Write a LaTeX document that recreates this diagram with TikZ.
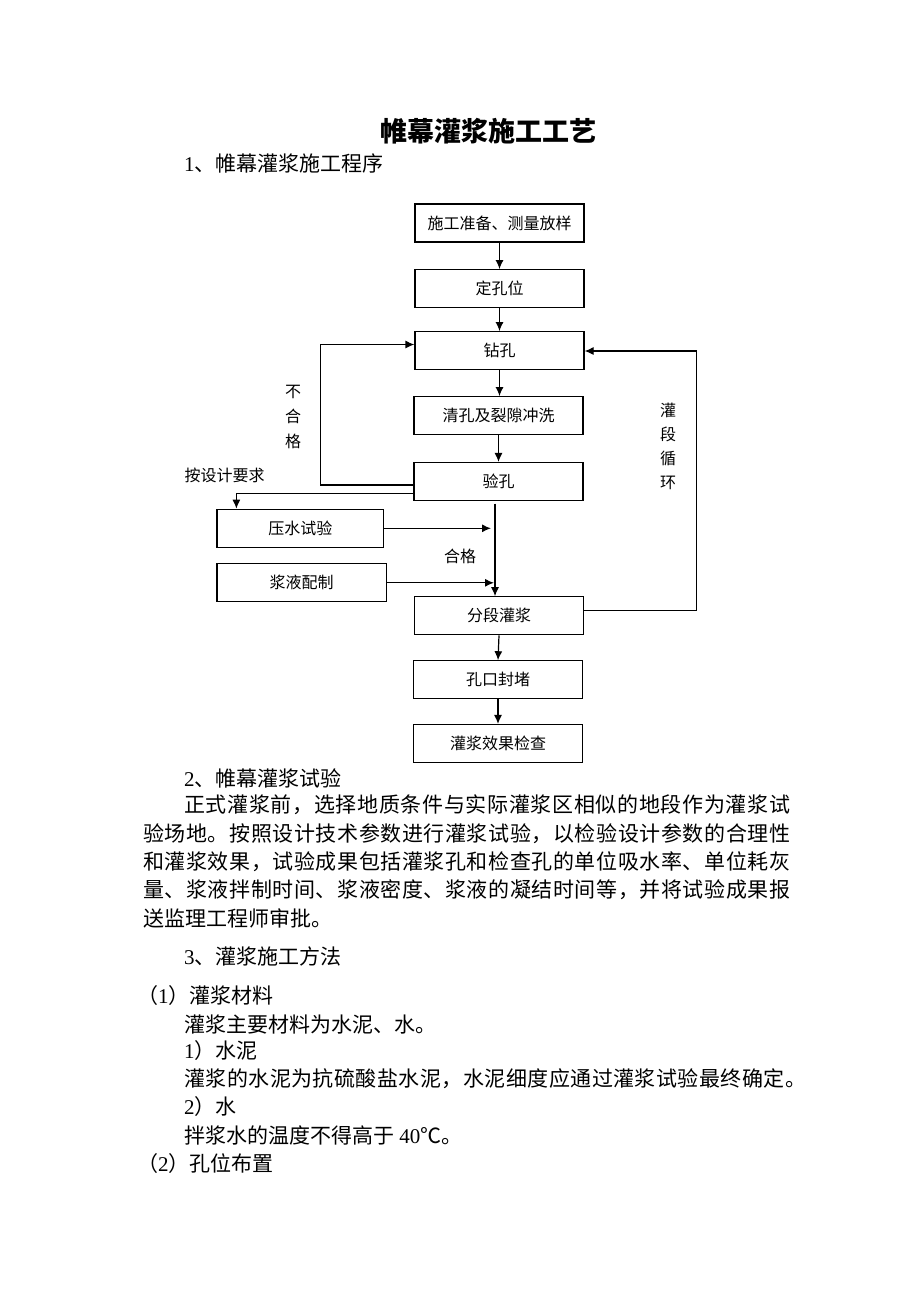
\documentclass[tikz,border=0pt]{standalone}
\usepackage{fontspec}
\setmainfont{Noto Sans CJK SC}
\newfontfamily\lat{Liberation Serif}
\usetikzlibrary{arrows.meta}
\def\spreadtext#1{\spreadA#1\relax}
\def\spreadA#1{#1\spreadB}
\def\spreadB#1{\ifx#1\relax\else\hfil#1\expandafter\spreadB\fi}
\newcommand{\jline}[2]{\hbox to #1{\spreadtext{#2}}}
\begin{document}
\begin{tikzpicture}[x=1pt,y=-1pt,
  box/.style={draw,line width=1.2pt,minimum width=169pt,minimum height=38pt,inner sep=0pt,font=\fontsize{16}{16}\selectfont},
  arr/.style={line width=1.2pt,-{Latex[length=9pt,width=8pt]}},
  lbl/.style={inner sep=0pt,font=\fontsize{16}{16}\selectfont},
  body/.style={anchor=west,inner sep=0pt,font=\fontsize{21}{21}\selectfont}]
\fill[white] (0,0) rectangle (920,1302);
\path[use as bounding box] (0,0) rectangle (920,1302);
% title
\node[inner sep=0pt,font=\fontsize{27}{27}\selectfont\bfseries] (title) at (488,131) {帷幕灌浆施工工艺};
\node[body] (h1) at (184,163) {{\lat 1}、帷幕灌浆施工程序};
% flowchart boxes
\node[box] (b1) at (499.5,223) {施工准备、测量放样};
\node[box] (b2) at (499.5,288.7) {定孔位};
\node[box] (b3) at (499.5,350.7) {钻孔};
\node[box] (b4) at (498.5,415.7) {清孔及裂隙冲洗};
\node[box] (b5) at (498.5,481.5) {验孔};
\node[box,minimum width=166.6pt] (ys) at (300.3,528.3) {压水试验};
\node[box,minimum width=169.4pt] (jy) at (301.7,582.8) {浆液配制};
\node[box] (fd) at (499,615.8) {分段灌浆};
\node[box] (kk) at (498,679.8) {孔口封堵};
\node[box] (xg) at (498,743.5) {灌浆效果检查};
% main arrows
\draw[arr] (b1.south) -- (b2.north);
\draw[arr] (b2.south) -- (b3.north);
\draw[arr] (b3.south) -- (b4.north -| b3.south);
\draw[arr] (b4.south) -- (b5.north);
\draw[arr] (fd.south) -- (kk.north);
\draw[arr] (kk.south) -- (xg.north);
% left loop (不合格)
\coordinate (L1) at (320.5,485);
\coordinate (L2) at (320.5,344.5);
\draw[arr] (L1 -| b5.west) -- (L1) -- (L2) -- (L2 -| b3.west);
% branch to 压水试验
\coordinate (L3) at (236.4,493.3);
\draw[arr] (L3 -| b5.west) -- (L3) -- (L3 |- ys.north);
% vertical line 验孔 -> 分段灌浆
\coordinate (V1) at (495,503.5);
\draw[arr] (V1) -- (V1 |- fd.north);
\coordinate (A1) at (491,528.3);
\draw[arr] (ys.east) -- (A1);
\coordinate (A2) at (494,582.8);
\draw[arr] (jy.east) -- (A2);
% right loop (灌段循环)
\coordinate (R1) at (696.6,610.7);
\coordinate (R2) at (696.6,351);
\draw[arr] (R1 -| fd.east) -- (R1) -- (R2) -- (R2 -| b3.east);
% labels
\node[lbl,align=center,font=\fontsize{16}{25}\selectfont] (bhg) at (293,417) {不\\合\\格};
\node[lbl,align=center,font=\fontsize{16}{24}\selectfont] (gdxh) at (668,446) {灌\\段\\循\\环};
\node[lbl] (asj) at (224.5,475) {按设计要求};
\node[lbl] (hg) at (460,556) {合格};
% body text
\node[body] (h2) at (184,778) {{\lat 2}、帷幕灌浆试验};
\node[body] (p1) at (184,805) {\jline{606pt}{正式灌浆前，选择地质条件与实际灌浆区相似的地段作为灌浆试}};
\node[body] (p2) at (143,834) {\jline{647pt}{验场地。按照设计技术参数进行灌浆试验，以检验设计参数的合理性}};
\node[body] (p3) at (143,862) {\jline{647pt}{和灌浆效果，试验成果包括灌浆孔和检查孔的单位吸水率、单位耗灰}};
\node[body] (p4) at (143,890) {\jline{647pt}{量、浆液拌制时间、浆液密度、浆液的凝结时间等，并将试验成果报}};
\node[body] (p5) at (143,918) {送监理工程师审批。};
\node[body] (h3) at (184,956) {{\lat 3}、灌浆施工方法};
\node[body] (s1) at (137,996) {（{\lat 1}）灌浆材料};
\node[body] (t1) at (184,1024) {灌浆主要材料为水泥、水。};
\node[body] (s11) at (184,1051) {{\lat 1}）水泥};
\node[body] (t2) at (184,1079) {\jline{622pt}{灌浆的水泥为抗硫酸盐水泥，水泥细度应通过灌浆试验最终确定。}};
\node[body] (s12) at (184,1107) {{\lat 2}）水};
\node[body] (t3) at (184,1135) {拌浆水的温度不得高于{\lat\ 40}℃。};
\node[body] (s2) at (137,1164) {（{\lat 2}）孔位布置};
\end{tikzpicture}
\end{document}
